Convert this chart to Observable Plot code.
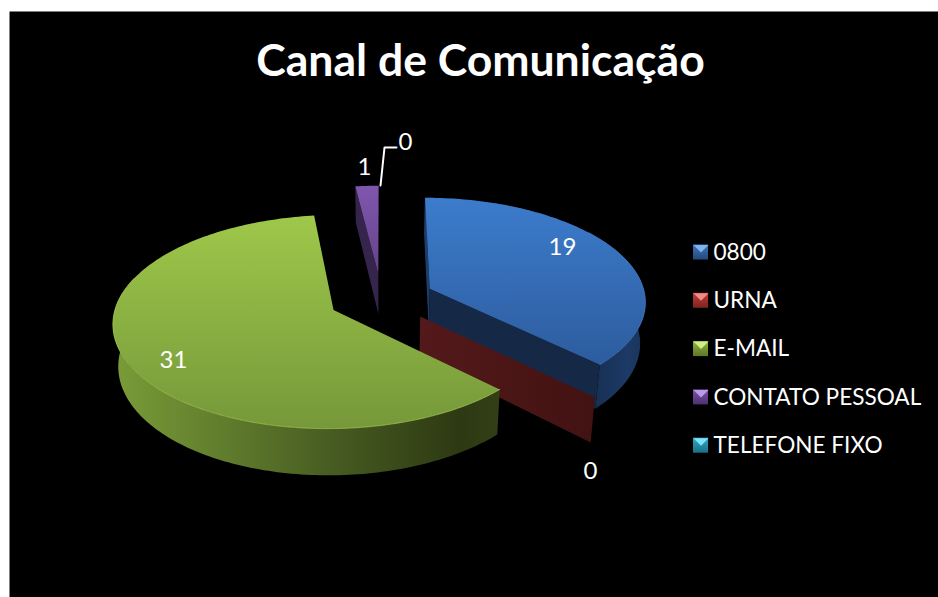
<!DOCTYPE html>
<html>
<head>
<meta charset="utf-8">
<script src="https://cdn.jsdelivr.net/npm/d3@7"></script>
<script src="https://cdn.jsdelivr.net/npm/@observablehq/plot@0.6"></script>
<style>html,body{margin:0;padding:0;background:#fff}svg{display:block}</style>
</head>
<body>
<div id="chart"></div>
<script>
const chartTitle = "Canal de Comunicação";
const categories = ["0800", "URNA", "E-MAIL", "CONTATO PESSOAL", "TELEFONE FIXO"];
const values = [19, 0, 31, 1, 0];
const swatchColors = ["#3f74b8", "#c43c3a", "#8fb340", "#7a52a8", "#2fa9c8"];
const swatchLights = ["#7fb2ef", "#f08a88", "#d2ec86", "#bb9ae6", "#7fe4f6"];
const swatchDarks = ["#24497c", "#7e2220", "#5d7628", "#4c3270", "#1b6f86"];

// Layout of the projected pie (perspective view of the exploded disc)
const view = {vx: 381, y0: 298, sx: 216, sy: 103, p: 0.11, explode: 0.245, depth: 41, shrink: 0.98};
const TAU = Math.PI * 2;
const arcs = d3.pie().sort(null).value(d => d).startAngle(0).endAngle(TAU)(values);

function project(U, V) {
  const w = 1 / (1 - view.p * V);
  return {x: view.vx + view.sx * U * w, y: view.y0 + view.sy * V * w, w};
}
const lower = (pt) => ({x: view.vx + (pt.x - view.vx) * view.shrink, y: pt.y + view.depth * pt.w, w: pt.w});
function slicePoint(i, angle, r) {
  const a = arcs[i], mid = (a.startAngle + a.endAngle) / 2;
  const U = Math.sin(mid) * view.explode + Math.sin(angle) * r;
  const V = -Math.cos(mid) * view.explode - Math.cos(angle) * r;
  return project(U, V);
}
function rim(i, from, to) {
  const n = Math.max(2, Math.ceil(Math.abs(to - from) / 0.02));
  return d3.range(n + 1).map(k => slicePoint(i, from + (to - from) * k / n, 1));
}
const apex = i => slicePoint(i, 0, 0);
const closed = (pts, options) => Plot.line(pts, {x: "x", y: "y", curve: "linear-closed", strokeWidth: 0, ...options});
const topFace = i => [apex(i), ...rim(i, arcs[i].startAngle, arcs[i].endAngle)];
const outerWall = (i, from, to) => { const r = rim(i, from, to); return [...r, ...r.map(lower).reverse()]; };
const radialWall = (i, angle) => { const a = apex(i), b = slicePoint(i, angle, 1); return [a, b, lower(b), lower(a)]; };

const defs = () => {
  const ns = "http://www.w3.org/2000/svg";
  const el = document.createElementNS(ns, "defs");
  const grad = (id, vertical, stops) => {
    const g = document.createElementNS(ns, "linearGradient");
    g.setAttribute("id", id);
    g.setAttribute("x1", 0); g.setAttribute("y1", 0);
    g.setAttribute("x2", vertical ? 0 : 1); g.setAttribute("y2", vertical ? 1 : 0);
    stops.forEach(([o, c]) => {
      const s = document.createElementNS(ns, "stop");
      s.setAttribute("offset", o); s.setAttribute("stop-color", c);
      g.appendChild(s);
    });
    el.appendChild(g);
  };
  grad("greenTop", true, [[0, "#9ec84a"], [1, "#76983a"]]);
  grad("greenWall", false, [[0, "#7a9c38"], [0.3, "#5f7b2c"], [0.6, "#445820"], [0.9, "#2d3912"], [1, "#323f16"]]);
  grad("blueTop", true, [[0, "#3c7ccc"], [1, "#2d5c9e"]]);
  grad("blueWall", false, [[0, "#152845"], [0.7, "#152a4a"], [0.92, "#1c3a66"], [1, "#1a3358"]]);
  grad("redPlane", false, [[0, "#54191a"], [1, "#421212"]]);
  grad("purpleTop", true, [[0, "#7f56ad"], [1, "#64448a"]]);
  categories.forEach((c, i) => grad("sw" + i, true, [[0, swatchColors[i]], [1, swatchDarks[i]]]));
  return el;
};

const legendRows = categories.map((name, i) => ({name, i, y: 252 + i * 48.3}));
const swatchSize = 7.5, legendX = 700.5;

const labels = [
  {text: String(values[0]), x: 562, y: 247},
  {text: String(values[2]), x: 173, y: 360},
  {text: String(values[3]), x: 364, y: 167},
  {text: String(values[4]), x: 405, y: 142},
  {text: String(values[1]), x: 590, y: 471}
];
const leader = [{x: 380, y: 185}, {x: 384, y: 147}, {x: 396, y: 147}];
const [BLUE, URNA, GREEN, PURPLE] = [0, 1, 2, 3];
const font = "Lato";

const chart = Plot.plot({
  width: 938, height: 597,
  marginLeft: 9, marginTop: 11, marginRight: 0, marginBottom: 0,
  style: {background: "#fff", fontFamily: font},
  x: {domain: [0, 938], range: [0, 938], axis: null},
  y: {domain: [0, 597], range: [0, 597], axis: null},
  marks: [
    Plot.frame({fill: "#000", stroke: "none"}),
    defs,
    // contact slice
    closed(radialWall(PURPLE, arcs[PURPLE].startAngle), {fill: "#35254d"}),
    closed(topFace(PURPLE), {fill: "url(#purpleTop)"}),
    // 0800 slice
    closed(outerWall(BLUE, arcs[BLUE].startAngle, arcs[BLUE].endAngle), {fill: "url(#blueWall)"}),
    closed(radialWall(BLUE, arcs[BLUE].startAngle), {fill: "#1d3d6b"}),
    closed(radialWall(BLUE, arcs[BLUE].endAngle), {fill: "#152845"}),
    closed(topFace(BLUE), {fill: "url(#blueTop)"}),
    // URNA zero slice: only its plane shows
    closed(radialWall(URNA, arcs[URNA].startAngle), {fill: "url(#redPlane)"}),
    // e-mail slice
    closed(outerWall(GREEN, arcs[GREEN].startAngle, Math.PI * 1.55), {fill: "url(#greenWall)"}),
    closed(topFace(GREEN), {fill: "url(#greenTop)"}),
    Plot.line(rim(GREEN, arcs[GREEN].startAngle, Math.PI * 1.6), {x: "x", y: "y", stroke: "#aacb55", strokeWidth: 1, strokeOpacity: 0.7}),
    Plot.line(rim(BLUE, Math.PI * 0.3, arcs[BLUE].endAngle), {x: "x", y: "y", stroke: "#4a86d0", strokeWidth: 1, strokeOpacity: 0.6}),
    // data labels
    Plot.line(leader, {x: "x", y: "y", stroke: "#fff", strokeWidth: 2}),
    Plot.text(labels, {x: "x", y: "y", text: "text", fill: "#fff", fontSize: 24, fontFamily: font}),
    // legend
    Plot.rect(legendRows, {
      x1: d => legendX - swatchSize, x2: d => legendX + swatchSize,
      y1: d => d.y - swatchSize, y2: d => d.y + swatchSize,
      fill: d => `url(#sw${d.i})`
    }),
    ...legendRows.map(d => closed(
      [{x: legendX - swatchSize, y: d.y - swatchSize}, {x: legendX + swatchSize, y: d.y - swatchSize}, {x: legendX, y: d.y}],
      {fill: swatchLights[d.i]}
    )),
    Plot.text(legendRows, {x: 713, y: "y", text: "name", textAnchor: "start", fill: "#fff", fontSize: 22.6, fontFamily: font}),
    // title
    Plot.text([chartTitle], {x: 480, y: 61, text: d => d, fill: "#fff", fontSize: 44.5, fontWeight: 700, fontFamily: font})
  ]
});
document.getElementById("chart").appendChild(chart);
</script>
</body>
</html>
